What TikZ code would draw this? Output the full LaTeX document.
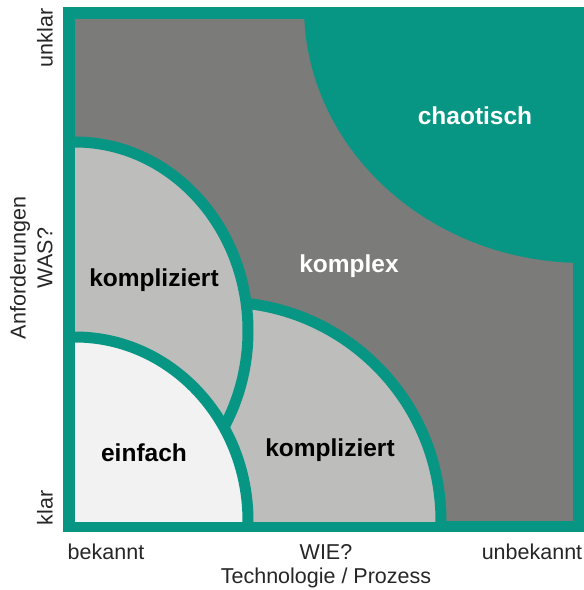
\documentclass[tikz,border=0pt]{standalone}
\usepackage{fontspec}
\setmainfont{Liberation Sans}
\definecolor{teal1}{RGB}{8,150,132}
\definecolor{dgray}{RGB}{123,123,121}
\definecolor{lgray}{RGB}{189,189,187}
\definecolor{wgray}{RGB}{242,242,242}
\tikzset{
  zone/.style={draw=teal1, line width=11pt},
  lbl/.style={font=\fontsize{24.5}{28}\selectfont\bfseries, inner sep=0pt},
  axis/.style={font=\fontsize{21.5}{25}\selectfont, inner sep=0pt, text=black!85},
}
\begin{document}
\begin{tikzpicture}[x=1pt,y=-1pt]
\useasboundingbox (0,0) rectangle (584,590);
% frame
\fill[teal1] (63,7) rectangle (584,532);
\fill[dgray] (75,19) rectangle (573,521);
\begin{scope}
\clip (75,19) rectangle (573,521);
\fill[teal1] (584,7) ellipse [x radius=280pt, y radius=256pt];
\filldraw[zone, fill=lgray] (222,521) circle [radius=219pt];
\filldraw[zone, fill=lgray] (75,331) ellipse [x radius=173pt, y radius=189pt];
\filldraw[zone, fill=wgray] (75,521) ellipse [x radius=173pt, y radius=184pt];
\end{scope}
% labels
\node[lbl, text=white] (chaos) at (475,116) {chaotisch};
\node[lbl, text=white] (komplex) at (349,266) {komplex};
\node[lbl] (kompA) at (154,280) {kompliziert};
\node[lbl] (einfach) at (144,453) {einfach};
\node[lbl] (kompB) at (330,450) {kompliziert};
% axes
\node[axis] (bek) at (106,552) {bekannt};
\node[axis] (wie) at (326,552) {WIE?};
\node[axis] (unbek) at (532,552) {unbekannt};
\node[axis] (tech) at (326,578) {Technologie / Prozess};
\node[axis, rotate=90] (unklar) at (45,38) {unklar};
\node[axis, rotate=90] (anf) at (20,268) {Anforderungen};
\node[axis, rotate=90] (was) at (45,258) {WAS?};
\node[axis, rotate=90] (klar) at (45,508) {klar};
\end{tikzpicture}
\end{document}
